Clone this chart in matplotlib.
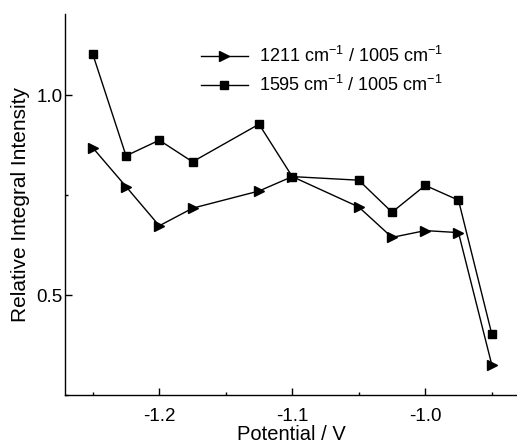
import matplotlib
matplotlib.use("Agg")
import matplotlib.pyplot as plt
from matplotlib.ticker import MultipleLocator

plt.rcParams['font.family'] = ['Liberation Sans', 'DejaVu Sans']
plt.rcParams['mathtext.fontset'] = 'custom'
plt.rcParams['mathtext.rm'] = 'Liberation Sans'
plt.rcParams['mathtext.it'] = 'Liberation Sans'
plt.rcParams['mathtext.default'] = 'regular'
plt.rcParams['axes.unicode_minus'] = False

potential = [-1.25, -1.225, -1.2, -1.175, -1.125, -1.1, -1.05, -1.025, -1.0, -0.975, -0.95]
ratio_1211 = [0.868, 0.771, 0.673, 0.717, 0.760, 0.796, 0.720, 0.644, 0.661, 0.656, 0.326]
ratio_1595 = [1.102, 0.848, 0.887, 0.833, 0.927, 0.796, 0.787, 0.707, 0.774, 0.737, 0.403]
label_1211 = "1211 cm$^{-1}$ / 1005 cm$^{-1}$"
label_1595 = "1595 cm$^{-1}$ / 1005 cm$^{-1}$"

fig = plt.figure(figsize=(5.17, 4.48), dpi=100)
ax = fig.add_axes([65/517, 1-395/448, 1-65/517, (395-14)/448])

ax.plot(potential, ratio_1211, color='black', lw=1.0, marker='>', markersize=7.5,
        label=label_1211)
ax.plot(potential, ratio_1595, color='black', lw=1.0, marker='s', markersize=5.5,
        label=label_1595)

ax.set_xlim(-1.2709, -0.931)
ax.set_ylim(0.25, 1.2025)
ax.xaxis.set_major_locator(MultipleLocator(0.1))
ax.xaxis.set_minor_locator(MultipleLocator(0.05))
ax.yaxis.set_major_locator(MultipleLocator(0.5))
ax.yaxis.set_minor_locator(MultipleLocator(0.25))

for s in ['top', 'right']:
    ax.spines[s].set_visible(False)
for s in ['left', 'bottom']:
    ax.spines[s].set_linewidth(1.0)

ax.tick_params(which='both', direction='in', width=1.0, labelsize=13.5)
ax.tick_params(which='major', length=5)
ax.tick_params(which='minor', length=2.5)
ax.tick_params(axis='x', which='major', pad=9)
ax.tick_params(axis='y', which='major', pad=1.5)

ax.set_xlabel("Potential / V", fontsize=14.5, labelpad=0)
ax.set_ylabel("Relative Integral Intensity", fontsize=15, labelpad=5)

leg = ax.legend(loc='upper left', bbox_to_anchor=(201/517, 1-46/448),
                bbox_transform=fig.transFigure, frameon=False, fontsize=13,
                handlelength=2.6, handletextpad=0.6, labelspacing=0.5,
                numpoints=1, borderaxespad=0, borderpad=0)

fig.savefig("out.png", dpi=100)
